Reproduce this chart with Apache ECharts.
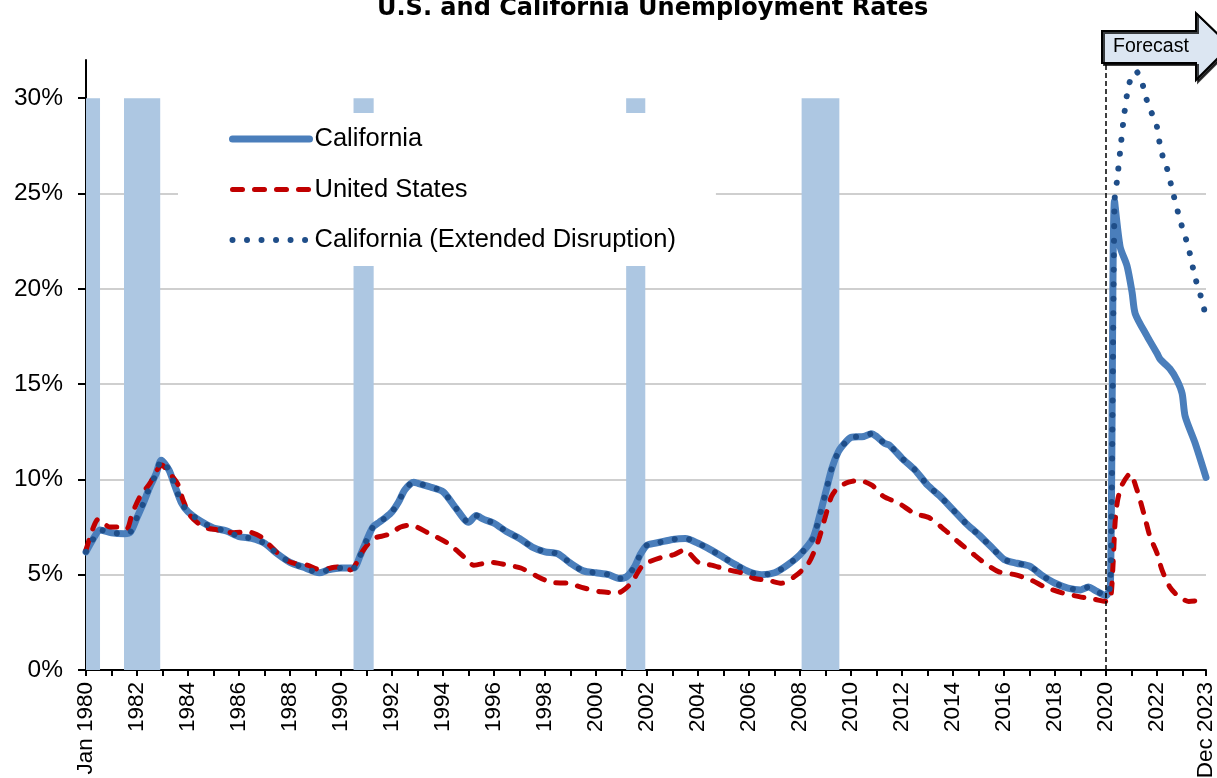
<!DOCTYPE html>
<html>
<head>
<meta charset="utf-8">
<title>U.S. and California Unemployment Rates</title>
<script src="https://cdn.jsdelivr.net/npm/echarts@6/dist/echarts.min.js"></script>
<style>
  html, body { margin: 0; padding: 0; background: #fff; }
  #chart { width: 1217px; height: 778px; }
</style>
</head>
<body>
<div id="chart"></div>
<script>
// ------------------------------
// data (x = decimal year, Jan 1980 = 1980.0, y = unemployment rate %)
// ------------------------------

const caHistory = [
  [1980.00, 6.2], [1980.25, 6.8], [1980.55, 7.35], [1981.00, 7.2], [1981.50, 7.15], [1981.75, 7.25],
  [1982.00, 8.0], [1982.25, 8.75], [1982.50, 9.6], [1982.75, 10.3], [1982.95, 11.0], [1983.25, 10.5],
  [1983.50, 9.6], [1983.75, 8.75], [1984.00, 8.3], [1984.50, 7.8], [1985.00, 7.45], [1985.50, 7.3],
  [1986.00, 7.0], [1986.50, 6.9], [1987.00, 6.65], [1987.50, 6.1], [1988.00, 5.65], [1988.50, 5.4],
  [1989.15, 5.1], [1989.50, 5.25], [1990.00, 5.35], [1990.50, 5.35], [1990.75, 6.0], [1991.00, 6.8],
  [1991.25, 7.5], [1991.50, 7.75], [1991.75, 8.0], [1992.00, 8.3], [1992.25, 8.8], [1992.50, 9.45],
  [1992.85, 9.85], [1993.00, 9.8], [1993.50, 9.6], [1994.00, 9.35], [1994.50, 8.5], [1995.00, 7.75],
  [1995.30, 8.1], [1995.60, 7.9], [1996.00, 7.7], [1996.50, 7.25], [1997.00, 6.9], [1997.50, 6.45],
  [1998.00, 6.2], [1998.50, 6.1], [1999.00, 5.6], [1999.50, 5.2], [2000.00, 5.1], [2000.50, 5.0],
  [2000.90, 4.8], [2001.20, 4.9], [2001.50, 5.4], [2001.75, 6.1], [2002.00, 6.55], [2002.50, 6.7],
  [2003.00, 6.85], [2003.50, 6.9], [2004.00, 6.65], [2004.50, 6.3], [2005.00, 5.9], [2005.50, 5.5],
  [2006.00, 5.15], [2006.50, 5.0], [2007.00, 5.1], [2007.50, 5.5], [2008.00, 6.05], [2008.50, 6.9],
  [2008.75, 8.0], [2009.00, 9.3], [2009.25, 10.6], [2009.50, 11.45], [2009.75, 11.9], [2010.00, 12.2],
  [2010.50, 12.25], [2010.80, 12.4], [2011.00, 12.25], [2011.30, 11.9], [2011.50, 11.8], [2012.00, 11.1],
  [2012.50, 10.5], [2013.00, 9.7], [2013.50, 9.1], [2014.00, 8.4], [2014.50, 7.7], [2015.00, 7.1],
  [2015.50, 6.45], [2016.00, 5.8], [2016.50, 5.6], [2017.00, 5.45], [2017.50, 4.95], [2018.00, 4.55],
  [2018.50, 4.3], [2019.00, 4.2], [2019.30, 4.35], [2019.60, 4.15], [2020.00, 3.9], [2020.17, 4.5],
  [2020.33, 24.6]
];

// baseline forecast after the April 2020 spike
const caForecast = [
  [2020.55, 22.2], [2020.82, 21.2], [2021.02, 19.8], [2021.14, 18.7], [2021.61, 17.5], [2022.00, 16.6],
  [2022.12, 16.3], [2022.50, 15.8], [2022.78, 15.2], [2022.98, 14.5], [2023.10, 13.3], [2023.49, 11.9],
  [2023.917, 10.1]
];

// extended disruption scenario after the spike
const caExtended = [
  [2020.43, 25.7], [2020.55, 27.2], [2020.67, 28.7], [2020.82, 30.2], [2020.94, 30.9], [2021.18, 31.4],
  [2021.41, 30.8], [2021.57, 30.0], [2021.76, 29.3], [2021.96, 28.7], [2022.16, 27.2], [2022.35, 26.5],
  [2022.63, 25.0], [2022.90, 23.6], [2023.22, 22.2], [2023.49, 20.6], [2023.80, 19.2], [2023.917, 18.4]
];

const usRates = [
  [1980.00, 6.3], [1980.28, 7.45], [1980.47, 7.9], [1980.94, 7.5], [1981.34, 7.5], [1981.60, 7.4],
  [1981.81, 8.2], [1982.12, 9.1], [1982.51, 9.8], [1982.79, 10.5], [1982.99, 10.75], [1983.10, 10.6],
  [1983.58, 9.8], [1983.81, 8.9], [1984.09, 8.1], [1984.60, 7.5], [1985.15, 7.35], [1985.78, 7.2],
  [1986.33, 7.25], [1986.84, 7.0], [1987.50, 6.15], [1988.02, 5.65], [1988.68, 5.5], [1989.19, 5.25],
  [1989.86, 5.4], [1990.37, 5.25], [1990.88, 6.3], [1991.28, 6.9], [1991.83, 7.1], [1992.34, 7.5],
  [1992.73, 7.6], [1993.40, 7.2], [1994.18, 6.65], [1994.81, 5.95], [1995.21, 5.5], [1995.87, 5.65],
  [1996.54, 5.5], [1997.05, 5.35], [1997.56, 5.0], [1998.23, 4.6], [1998.90, 4.55], [1999.53, 4.3],
  [2000.20, 4.1], [2000.86, 4.05], [2001.37, 4.55], [2001.77, 5.4], [2002.04, 5.65], [2002.55, 5.9],
  [2003.06, 6.05], [2003.46, 6.3], [2004.01, 5.65], [2004.52, 5.5], [2005.19, 5.25], [2005.70, 5.1],
  [2006.21, 4.8], [2006.76, 4.7], [2007.27, 4.55], [2007.78, 4.9], [2008.33, 5.6], [2008.72, 6.8],
  [2008.96, 7.9], [2009.23, 9.1], [2009.51, 9.6], [2009.90, 9.85], [2010.29, 9.95], [2010.81, 9.7],
  [2011.28, 9.1], [2011.87, 8.75], [2012.50, 8.2], [2013.05, 8.0], [2013.67, 7.35], [2014.22, 6.7],
  [2014.73, 6.15], [2015.25, 5.6], [2015.80, 5.15], [2016.42, 5.0], [2017.09, 4.7], [2017.60, 4.35],
  [2018.27, 4.05], [2018.94, 3.85], [2019.57, 3.7], [2020.00, 3.6], [2020.17, 3.7], [2020.27, 5.5],
  [2020.35, 7.7], [2020.45, 8.9], [2020.62, 9.7], [2020.94, 10.3], [2021.21, 9.45], [2021.48, 8.2],
  [2021.72, 7.0], [2021.99, 6.15], [2022.19, 5.25], [2022.50, 4.35], [2022.85, 3.85], [2023.24, 3.6],
  [2023.67, 3.65]
];

// recession periods (start, end)
const recessions = [
  [1980.00, 1980.55], [1981.49, 1982.91], [1990.49, 1991.28], [2001.18, 2001.93], [2008.06, 2009.54]
];

const forecastStart = 2020;
const xStart = 1980;
const xEnd = 1980 + 527 / 12; // Dec 2023
const xTickValues = [];
for (let y = 1980; y <= 2023; y++) xTickValues.push(y);
xTickValues.push(xEnd);
const xLabelValues = [1980, 1982, 1984, 1986, 1988, 1990, 1992, 1994, 1996, 1998, 2000,
  2002, 2004, 2006, 2008, 2010, 2012, 2014, 2016, 2018, 2020, 2022, xEnd];
const firstLabel = 'Jan 1980';
const lastLabel = 'Dec 2023';
const yTickValues = [0, 5, 10, 15, 20, 25, 30];

const seriesNames = ['California', 'United States', 'California (Extended Disruption)'];
const colors = ['#4A7EBB', '#C00000', '#1F4E89'];
const FONT = '"Liberation Sans", Arial, sans-serif';

// ------------------------------
// chart
// ------------------------------

const chart = echarts.init(document.getElementById('chart'));

chart.setOption({
  animation: false,
  title: {
    text: 'U.S. and California Unemployment Rates',
    left: 372,
    top: -8,
    textStyle: { fontFamily: '"DejaVu Sans"', fontWeight: 'bold', fontSize: 24, color: '#000' }
  },
  legend: {
    orient: 'vertical',
    left: 178,
    top: 113,
    padding: [11, 40, 11, 51],
    backgroundColor: '#fff',
    itemWidth: 77,
    itemHeight: 14,
    itemGap: 20.5,
    itemStyle: { opacity: 0 },
    textStyle: { fontFamily: FONT, fontSize: 25.5, color: '#000', lineHeight: 30 },
    data: [
      { name: seriesNames[0], lineStyle: { width: 7 } },
      { name: seriesNames[1], lineStyle: { width: 5 } },
      { name: seriesNames[2], lineStyle: { width: 6 } }
    ]
  },
  grid: { left: 86, right: 11, top: 60, bottom: 108, containLabel: false, outerBoundsMode: 'none' },
  xAxis: {
    type: 'value',
    min: xStart,
    max: xEnd,
    interval: 1,
    axisLine: { show: true, onZero: false, lineStyle: { color: '#000', width: 2 } },
    axisTick: { show: true, length: 6, customValues: xTickValues, lineStyle: { color: '#000', width: 2 } },
    axisLabel: {
      customValues: xLabelValues,
      rotate: 90,
      margin: 12,
      fontFamily: FONT,
      fontSize: 22.5,
      color: '#000',
      formatter: v => v === xStart ? firstLabel : (Math.abs(v - xEnd) < 0.01 ? lastLabel : String(v))
    },
    splitLine: { show: false }
  },
  yAxis: {
    type: 'value',
    min: 0,
    max: 32,
    interval: 5,
    axisLine: { show: true, lineStyle: { color: '#000', width: 2 } },
    axisTick: { show: true, length: 8, customValues: yTickValues, lineStyle: { color: '#000', width: 2 } },
    axisLabel: {
      customValues: yTickValues,
      margin: 23,
      fontFamily: FONT,
      fontSize: 24.5,
      color: '#000',
      formatter: v => v + '%'
    },
    splitLine: { show: true, showMaxLine: false, lineStyle: { color: '#BFBFBF', width: 1.5 } }
  },
  graphic: [
    {
      type: 'polygon',
      z: 100,
      shape: { points: [[1102, 31], [1196, 31], [1196, 13], [1230, 46], [1196, 80], [1196, 63], [1102, 63]] },
      style: {
        fill: '#DCE6F2', stroke: '#000', lineWidth: 2,
        shadowColor: 'rgba(0,0,0,0.75)', shadowOffsetX: 2, shadowOffsetY: 2, shadowBlur: 0
      }
    },
    {
      type: 'text',
      z: 101,
      x: 1113,
      y: 47,
      style: { text: 'Forecast', font: '19.5px "Liberation Sans", Arial, sans-serif', fill: '#000', verticalAlign: 'middle' }
    }
  ],
  series: [
    {
      name: 'recessions',
      type: 'line',
      data: [],
      z: 1,
      silent: true,
      markArea: {
        silent: true,
        itemStyle: { color: '#ADC7E2' },
        data: recessions.map(r => [{ xAxis: r[0], yAxis: 0 }, { xAxis: r[1], yAxis: 30 }])
      }
    },
    {
      name: seriesNames[0],
      type: 'line',
      data: caHistory.concat(caForecast),
      symbol: 'none',
      smooth: 0.25,
      z: 3,
      lineStyle: { color: colors[0], width: 7, cap: 'round', join: 'round' },
      itemStyle: { color: colors[0] }
    },
    {
      name: seriesNames[1],
      type: 'line',
      data: usRates,
      symbol: 'none',
      smooth: 0.25,
      z: 4,
      lineStyle: { color: colors[1], width: 5, type: [10, 12], cap: 'round', join: 'round' },
      itemStyle: { color: colors[1] }
    },
    {
      name: seriesNames[2],
      type: 'line',
      data: caHistory.concat(caExtended),
      symbol: 'none',
      smooth: 0.25,
      z: 5,
      lineStyle: { color: colors[2], width: 6, type: [0.01, 14.5], cap: 'round' },
      itemStyle: { color: colors[2] }
    },
    {
      name: 'forecast start',
      type: 'line',
      data: [],
      z: 6,
      silent: true,
      markLine: {
        silent: true,
        symbol: 'none',
        label: { show: false },
        lineStyle: { color: '#000', type: [5, 3], width: 1.5 },
        data: [{ xAxis: forecastStart }]
      }
    }
  ]
});

window.addEventListener('resize', () => chart && chart.resize());
</script>
</body>
</html>
